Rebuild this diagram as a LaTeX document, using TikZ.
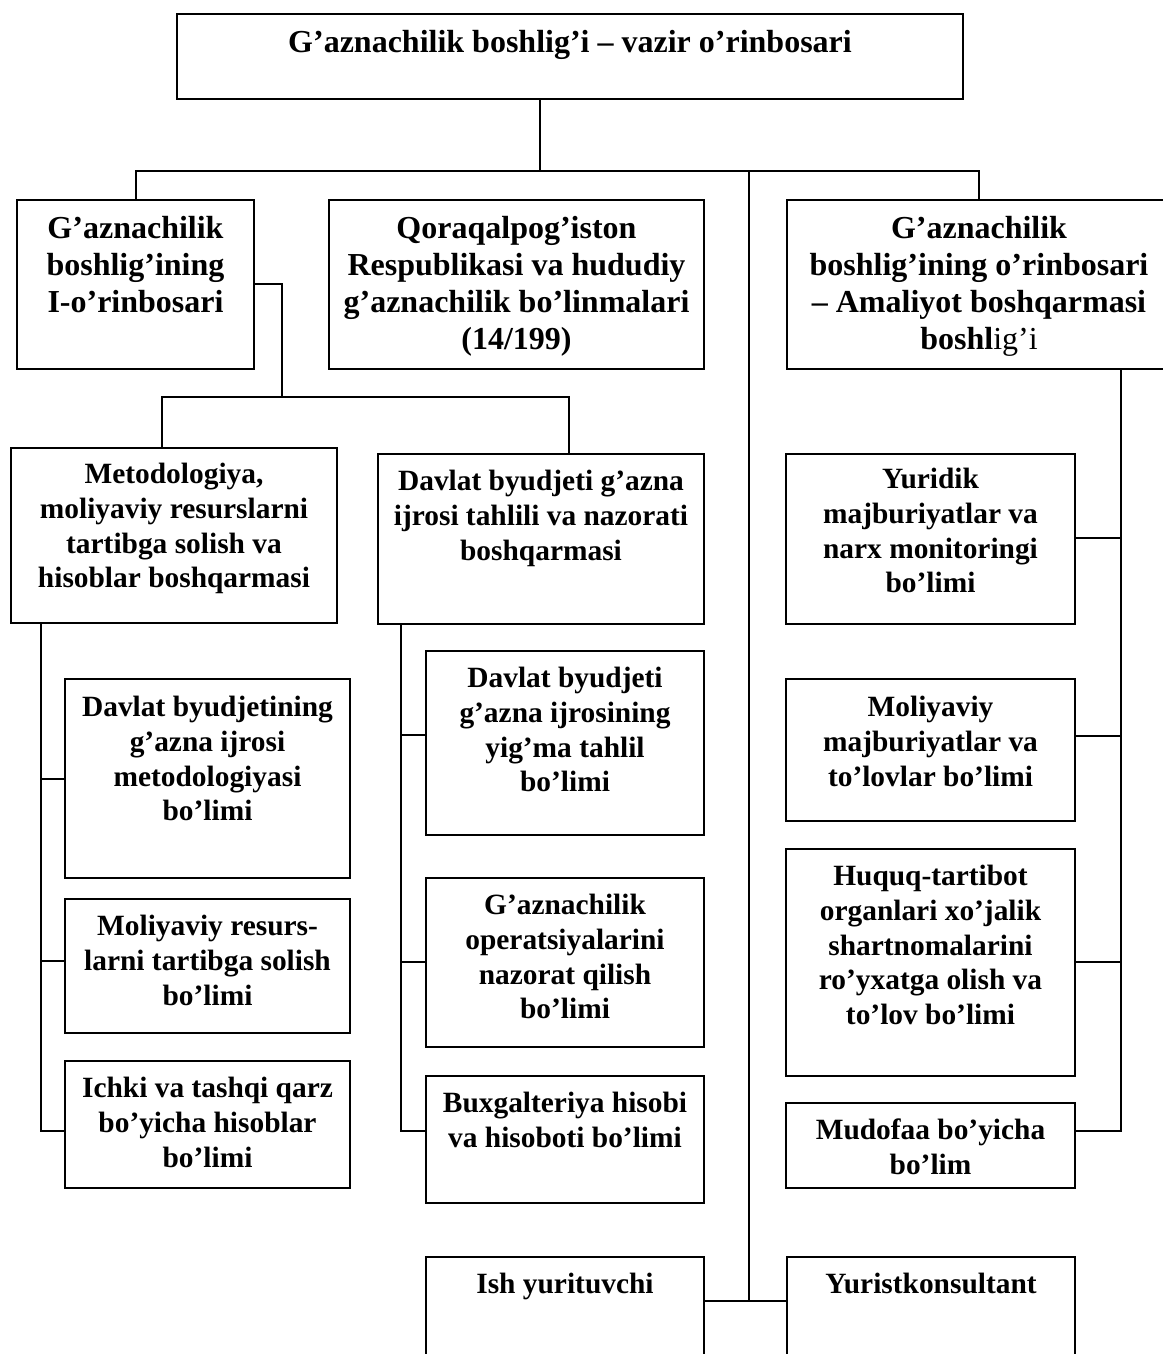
\documentclass[tikz,border=0pt]{standalone}
\usepackage{fontspec}
\setmainfont{Liberation Serif}
\begin{document}
\begin{tikzpicture}[x=1pt,y=-1pt,line width=2pt,
  box/.style={draw,line width=2pt,inner sep=0pt,anchor=north west},
  lbl/.style={align=center,inner sep=0pt,anchor=north,font=\bfseries\fontsize{29.4}{34.8}\selectfont},
  big/.style={font=\bfseries\fontsize{32}{37}\selectfont},
  conn/.style={draw,line width=2pt}]
\useasboundingbox (0,0) rectangle (1162,1354);
% boxes
\node[box,minimum width=786pt,minimum height=85pt] (top) at (176,13) {};
\node[box,minimum width=237pt,minimum height=169pt] (a) at (16,199) {};
\node[box,minimum width=375pt,minimum height=169pt] (b) at (328,199) {};
\node[box,minimum width=384pt,minimum height=169pt] (c) at (786,199) {};
\node[box,minimum width=326pt,minimum height=175pt] (d) at (10,447) {};
\node[box,minimum width=326pt,minimum height=170pt] (e) at (377,453) {};
\node[box,minimum width=285pt,minimum height=199pt] (d1) at (64,678) {};
\node[box,minimum width=285pt,minimum height=134pt] (d2) at (64,898) {};
\node[box,minimum width=285pt,minimum height=127pt] (d3) at (64,1060) {};
\node[box,minimum width=278pt,minimum height=184pt] (e1) at (425,650) {};
\node[box,minimum width=278pt,minimum height=169pt] (e2) at (425,877) {};
\node[box,minimum width=278pt,minimum height=127pt] (e3) at (425,1075) {};
\node[box,minimum width=289pt,minimum height=170pt] (f1) at (785,453) {};
\node[box,minimum width=289pt,minimum height=142pt] (f2) at (785,678) {};
\node[box,minimum width=289pt,minimum height=227pt] (f3) at (785,848) {};
\node[box,minimum width=289pt,minimum height=85pt] (f4) at (785,1102) {};
\node[box,minimum width=278pt,minimum height=124pt] (g1) at (425,1256) {};
\node[box,minimum width=288pt,minimum height=124pt] (g2) at (786,1256) {};
% texts
\node[lbl,big] (tt) at ([yshift=-16pt]top.north) {G’aznachilik boshlig’i – vazir o’rinbosari};
\node[lbl,big] (at) at ([yshift=-16pt]a.north) {G’aznachilik\\boshlig’ining\\I-o’rinbosari};
\node[lbl,big] (bt) at ([yshift=-16pt]b.north) {Qoraqalpog’iston\\Respublikasi va hududiy\\g’aznachilik bo’linmalari\\(14/199)};
\node[lbl,big] (ct) at ([yshift=-16pt]c.north) {G’aznachilik\\boshlig’ining o’rinbosari\\– Amaliyot boshqarmasi\\boshl{\mdseries ig’i}};
\node[lbl] (dt) at ([yshift=-15pt]d.north) {Metodologiya,\\moliyaviy resurslarni\\tartibga solish va\\hisoblar boshqarmasi};
\node[lbl] (et) at ([yshift=-16pt]e.north) {Davlat byudjeti g’azna\\ijrosi tahlili va nazorati\\boshqarmasi};
\node[lbl] (d1t) at ([yshift=-17pt]d1.north) {Davlat byudjetining\\g’azna ijrosi\\metodologiyasi\\bo’limi};
\node[lbl] (d2t) at ([yshift=-16pt]d2.north) {Moliyaviy resurs-\\larni tartibga solish\\bo’limi};
\node[lbl] (d3t) at ([yshift=-16pt]d3.north) {Ichki va tashqi qarz\\bo’yicha hisoblar\\bo’limi};
\node[lbl] (e1t) at ([yshift=-16pt]e1.north) {Davlat byudjeti\\g’azna ijrosining\\yig’ma tahlil\\bo’limi};
\node[lbl] (e2t) at ([yshift=-16pt]e2.north) {G’aznachilik\\operatsiyalarini\\nazorat qilish\\bo’limi};
\node[lbl] (e3t) at ([yshift=-16pt]e3.north) {Buxgalteriya hisobi\\va hisoboti bo’limi};
\node[lbl] (f1t) at ([yshift=-14pt]f1.north) {Yuridik\\majburiyatlar va\\narx monitoringi\\bo’limi};
\node[lbl] (f2t) at ([yshift=-17pt]f2.north) {Moliyaviy\\majburiyatlar va\\to’lovlar bo’limi};
\node[lbl] (f3t) at ([yshift=-16pt]f3.north) {Huquq-tartibot\\organlari xo’jalik\\shartnomalarini\\ro’yxatga olish va\\to’lov bo’limi};
\node[lbl] (f4t) at ([yshift=-16pt]f4.north) {Mudofaa bo’yicha\\bo’lim};
\node[lbl] (g1t) at ([yshift=-16pt]g1.north) {Ish yurituvchi};
\node[lbl] (g2t) at ([yshift=-16pt]g2.north) {Yuristkonsultant};
% coordinates
\coordinate (hub) at (540,171);
\coordinate (mid) at (749,171);
\coordinate (bot) at (749,1301);
\coordinate (aj) at (282,284);
\coordinate (ah) at (282,397);
\coordinate (dl) at (162,397);
\coordinate (er) at (569,397);
\coordinate (ds) at (41,1131);
\coordinate (d2c) at (41,961);
\coordinate (es) at (401,1131);
\coordinate (e1c) at (401,735);
\coordinate (e2c) at (401,962);
\coordinate (fs) at (1121,1131);
\coordinate (f1c) at (1121,538);
\coordinate (f2c) at (1121,736);
\coordinate (f3c) at (1121,962);
% connectors
\draw[conn] (hub |- top.south) -- (hub);
\draw[conn] (a.north) -- (a.north |- hub) -- (c.north |- hub) -- (c.north);
\draw[conn] (mid) -- (bot);
\draw[conn] (g1.east |- bot) -- (g2.west |- bot);
\draw[conn] (a.east |- aj) -- (aj) -- (ah);
\draw[conn] (dl |- d.north) -- (dl) -- (er) -- (er |- e.north);
\draw[conn] (ds |- d.south) -- (ds) -- (ds -| d3.west);
\draw[conn] (ds |- d1.west) -- (d1.west);
\draw[conn] (d2c) -- (d2c -| d2.west);
\draw[conn] (es |- e.south) -- (es) -- (es -| e3.west);
\draw[conn] (e1c) -- (e1c -| e1.west);
\draw[conn] (e2c) -- (e2c -| e2.west);
\draw[conn] (fs |- c.south) -- (fs) -- (fs -| f4.east);
\draw[conn] (f1c) -- (f1c -| f1.east);
\draw[conn] (f2c) -- (f2c -| f2.east);
\draw[conn] (f3c) -- (f3c -| f3.east);
\end{tikzpicture}
\end{document}
